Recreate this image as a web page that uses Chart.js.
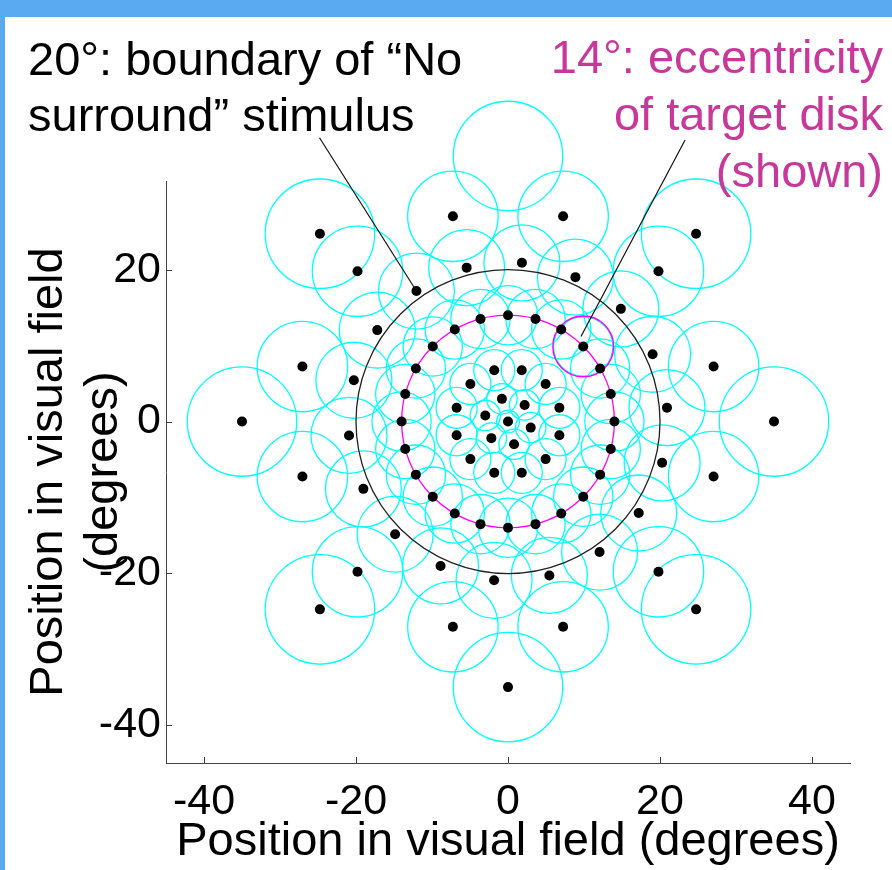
<!DOCTYPE html>
<html><head><meta charset="utf-8">
<script src="https://cdn.jsdelivr.net/npm/chart.js@4.4.1/dist/chart.umd.min.js"></script>
<style>
html,body{margin:0;padding:0;background:#fff;}
#wrap{position:relative;width:892px;height:870px;overflow:hidden;background:#fff;}
#c{position:absolute;left:0;top:0;}
.band{position:absolute;background:#5aaaf2;}
</style></head>
<body>
<div id="wrap">
<canvas id="c" width="892" height="870"></canvas>
<div class="band" style="left:0;top:0;width:892px;height:17px"></div>
<div class="band" style="left:0;top:0;width:5px;height:870px"></div>
</div>
<script>
// ---- data (degrees of visual field) ----
const xTicks = [-40, -20, 0, 20, 40];
const yTicks = [-40, -20, 0, 20];

// receptive-field centres (black dots)
const dotX = [
  0,
  2.19, -0.80, -2.99, -2.19, 0.80, 2.99,
  6.76, 4.95, 1.81, -1.81, -4.95, -6.76, -6.76, -4.95, -1.81, 1.81, 4.95, 6.76,
  14, 13.52, 12.12, 9.90, 7.00, 3.62, 0, -3.62, -7.00, -9.90, -12.12, -13.52,
  -14, -13.52, -12.12, -9.90, -7.00, -3.62, 0, 3.62, 7.00, 9.90, 12.12, 13.52,
  20.92, 19.03, 14.85, 8.87, 1.83, -5.44, -12.05, -17.20, -20.28,
  -20.92, -19.03, -14.85, -8.87, -1.83, 5.44, 12.05, 17.20, 20.28,
  27.05, 19.80, 7.25, -7.25, -19.80, -27.05, -27.05, -19.80, -7.25, 7.25, 19.80, 27.05,
  35, 24.75, 0, -24.75, -35, -24.75, 0, 24.75
];
const dotY = [
  0,
  2.19, 2.99, 0.80, -2.19, -2.99, -0.80,
  1.81, 4.95, 6.76, 6.76, 4.95, 1.81, -1.81, -4.95, -6.76, -6.76, -4.95, -1.81,
  0, 3.62, 7.00, 9.90, 12.12, 13.52, 14, 13.52, 12.12, 9.90, 7.00, 3.62,
  0, -3.62, -7.00, -9.90, -12.12, -13.52, -14, -13.52, -12.12, -9.90, -7.00, -3.62,
  1.83, 8.87, 14.85, 19.03, 20.92, 20.28, 17.20, 12.05, 5.44,
  -1.83, -8.87, -14.85, -19.03, -20.92, -20.28, -17.20, -12.05, -5.44,
  7.25, 19.80, 27.05, 27.05, 19.80, 7.25, -7.25, -19.80, -27.05, -27.05, -19.80, -7.25,
  0, 24.75, 35, 24.75, 0, -24.75, -35, -24.75
];
// radius of each receptive field (cyan circles), degrees
const fieldRadius = [
  1.5,
  2.0, 2.0, 2.0, 2.0, 2.0, 2.0,
  2.7, 2.7, 2.7, 2.7, 2.7, 2.7, 2.7, 2.7, 2.7, 2.7, 2.7, 2.7,
  3.9, 3.9, 3.9, 3.9, 3.9, 3.9, 3.9, 3.9, 3.9, 3.9, 3.9, 3.9,
  3.9, 3.9, 3.9, 3.9, 3.9, 3.9, 3.9, 3.9, 3.9, 3.9, 3.9, 3.9,
  5.0, 5.0, 5.0, 5.0, 5.0, 5.0, 5.0, 5.0, 5.0,
  5.0, 5.0, 5.0, 5.0, 5.0, 5.0, 5.0, 5.0, 5.0,
  5.95, 5.95, 5.95, 5.95, 5.95, 5.95, 5.95, 5.95, 5.95, 5.95, 5.95, 5.95,
  7.2, 7.2, 7.2, 7.2, 7.2, 7.2, 7.2, 7.2
];
const boundaryRadius = [20];   // "No surround" stimulus boundary
const eccRadius = [14];        // eccentricity of target disk
const targetX = [9.9];
const targetY = [9.9];
const targetRadius = [4.0];

// ---- helpers ----
const FONT = "'Liberation Sans', Arial, sans-serif";
function pxR(chart, r) {
  const s = chart.scales.x;
  return Math.abs(s.getPixelForValue(r) - s.getPixelForValue(0));
}
const pts = (xs, ys) => xs.map((x, i) => ({x, y: ys[i]}));

const inwardTicks = {
  id: 'inwardTicks',
  afterDraw(chart) {
    const {ctx, chartArea: a, scales: {x, y}} = chart;
    ctx.save();
    ctx.strokeStyle = '#444';
    ctx.lineWidth = 1;
    ctx.beginPath();
    xTicks.forEach(v => { const p = Math.round(x.getPixelForValue(v)) + 0.5; ctx.moveTo(p, a.bottom); ctx.lineTo(p, a.bottom - 6); });
    yTicks.forEach(v => { const p = Math.round(y.getPixelForValue(v)) + 0.5; ctx.moveTo(a.left, p); ctx.lineTo(a.left + 6, p); });
    ctx.stroke();
    ctx.restore();
  }
};

const notes = {
  id: 'notes',
  afterDraw(chart) {
    const {ctx} = chart;
    ctx.save();
    ctx.font = "47px " + FONT;
    ctx.textBaseline = 'alphabetic';
    ctx.fillStyle = '#000';
    ctx.textAlign = 'left';
    ctx.fillText('20°: boundary of \u201CNo', 28, 75);
    ctx.fillText('surround\u201D stimulus', 28, 131);
    ctx.fillStyle = '#c8379a';
    ctx.textAlign = 'right';
    ctx.fillText('14°: eccentricity', 883, 73);
    ctx.fillText('of target disk', 883, 130);
    ctx.fillText('(shown)', 883, 187);
    ctx.restore();
  }
};

new Chart(document.getElementById('c'), {
  type: 'scatter',
  data: {
    datasets: [
      { // dots
        data: pts(dotX, dotY), order: 0, clip: false,
        pointRadius: 5, pointBackgroundColor: '#000', pointBorderWidth: 0, pointBorderColor: '#000'
      },
      { // leader line 1
        type: 'line', data: [{x: -24.8, y: 37.4}, {x: -12.05, y: 17.2}], order: 1, clip: false,
        borderColor: '#111', borderWidth: 1.2, pointRadius: 0, fill: false
      },
      { // leader line 2
        type: 'line', data: [{x: 23.3, y: 37.1}, {x: 9.6, y: 11.2}], order: 1, clip: false,
        borderColor: '#111', borderWidth: 1.2, pointRadius: 0, fill: false
      },
      { // target disk
        data: pts(targetX, targetY), order: 2, clip: false,
        pointRadius: ctx => pxR(ctx.chart, targetRadius[ctx.dataIndex]),
        pointBackgroundColor: 'rgba(0,0,0,0)', pointBorderColor: '#ff00ff', pointBorderWidth: 1.4
      },
      { // 14 deg eccentricity ring
        data: [{x: 0, y: 0}], order: 3, clip: false,
        pointRadius: ctx => pxR(ctx.chart, eccRadius[ctx.dataIndex]),
        pointBackgroundColor: 'rgba(0,0,0,0)', pointBorderColor: '#ff00ff', pointBorderWidth: 1.3
      },
      { // 20 deg boundary
        data: [{x: 0, y: 0}], order: 4, clip: false,
        pointRadius: ctx => pxR(ctx.chart, boundaryRadius[ctx.dataIndex]),
        pointBackgroundColor: 'rgba(0,0,0,0)', pointBorderColor: '#222', pointBorderWidth: 1.3
      },
      { // receptive fields
        data: pts(dotX, dotY), order: 5, clip: false,
        pointRadius: ctx => pxR(ctx.chart, fieldRadius[ctx.dataIndex]),
        pointBackgroundColor: 'rgba(0,0,0,0)', pointBorderColor: '#00ffff', pointBorderWidth: 1.3
      }
    ]
  },
  options: {
    responsive: false,
    animation: false,
    events: [],
    layout: {padding: {left: 0, right: 42, top: 181, bottom: 0}},
    plugins: {legend: {display: false}, tooltip: {enabled: false}},
    scales: {
      x: {
        type: 'linear', position: 'bottom', min: -45, max: 45,
        grid: {display: false},
        border: {display: true, color: '#444', width: 1},
        afterBuildTicks: s => { s.ticks = xTicks.map(v => ({value: v})); },
        afterFit: s => { s.height = 107; },
        ticks: {color: '#000', padding: 5, font: {family: FONT, size: 43}},
        title: {display: true, text: 'Position in visual field (degrees)', color: '#000',
                padding: {top: 0, bottom: 1}, font: {family: FONT, size: 47, lineHeight: 1.15}}
      },
      y: {
        type: 'linear', position: 'left', min: -45, max: 31.7,
        grid: {display: false},
        border: {display: true, color: '#444', width: 1},
        afterBuildTicks: s => { s.ticks = yTicks.map(v => ({value: v})); },
        afterFit: s => { s.width = 166; },
        ticks: {color: '#000', padding: -3, font: {family: FONT, size: 43}},
        title: {display: true, text: ['Position in visual field', '(degrees)'], color: '#000',
                padding: {top: 22, bottom: 0}, font: {family: FONT, size: 47, lineHeight: 1.17}}
      }
    }
  },
  plugins: [inwardTicks, notes]
});
</script>
</body></html>
